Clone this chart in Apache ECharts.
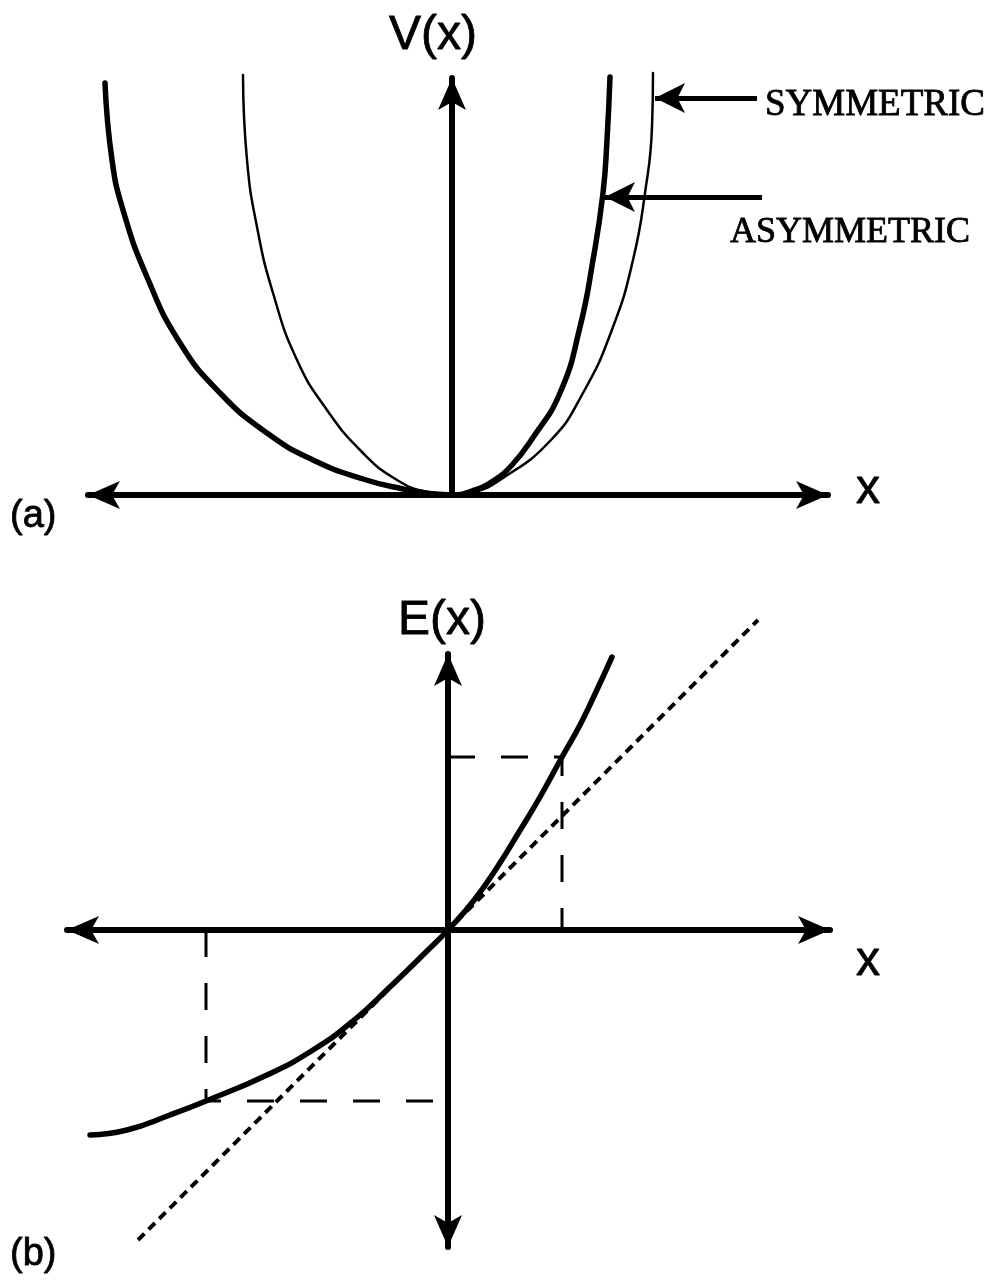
<!DOCTYPE html>
<html>
<head>
<meta charset="utf-8">
<script src="https://cdn.jsdelivr.net/npm/echarts@6/dist/echarts.min.js"></script>
<style>
  html, body { margin: 0; padding: 0; background: #fff; }
  #chart { width: 991px; height: 1283px; }
</style>
</head>
<body>
<div id="chart"></div>
<script>
// ---- (a) potential energy V(x): asymmetric (heavy) and symmetric (light) wells
const asymX = [-3.47, -3.40, -3.29, -3.05, -2.72, -2.32, -1.85, -1.39, -0.89, -0.49, -0.22, 0, 0.20, 0.41, 0.60, 0.80, 1.08, 1.28, 1.41, 1.51, 1.55, 1.58];
const asymV = [4.12, 3.35, 2.85, 2.18, 1.52, 1.02, 0.62, 0.35, 0.16, 0.06, 0.015, 0, 0.04, 0.14, 0.30, 0.56, 1.02, 1.68, 2.35, 3.02, 3.55, 4.18];
const symX = [-2.09, -2.05, -1.95, -1.79, -1.55, -1.25, -0.89, -0.55, -0.25, 0, 0.22, 0.48, 0.98, 1.31, 1.61, 1.81, 1.93, 2.00, 2.01];
const symV = [4.20, 3.35, 2.68, 2.02, 1.35, 0.85, 0.42, 0.15, 0.03, 0, 0.03, 0.15, 0.54, 1.02, 1.68, 2.35, 3.02, 3.68, 4.22];

// pointer arrows for the two wells: [tail, head]
const symPointer = [[3.05, 3.97], [2.03, 3.97]];
const asymPointer = [[3.10, 2.98], [1.53, 2.98]];
const pointerLabels = ['SYMMETRIC', 'ASYMMETRIC'];

// ---- (b) E(x), its tangent at the origin, and two read-off points
const eX = [-3.58, -3.21, -2.78, -2.42, -1.81, -1.35, -0.95, -0.55, -0.21, 0, 0.27, 0.50, 0.71, 0.92, 1.14, 1.32, 1.47, 1.64];
const eY = [-2.05, -2.00, -1.85, -1.71, -1.45, -1.20, -0.91, -0.54, -0.21, 0, 0.31, 0.64, 0.98, 1.33, 1.73, 2.05, 2.36, 2.73];
const tangentX = [-3.10, 3.10];
const tangentY = [-3.10, 3.10];
const readLow = [-2.42, -1.71];
const readHigh = [1.14, 1.73];

const axisTitles = ['V(x)', 'E(x)', 'x'];
const panelTags = ['(a)', '(b)'];

const zip = (xs, ys) => xs.map((x, i) => [x, ys[i]]);
const INK = '#000';
const ARROW = 'path://M14,0 L28,32 L14,24 L0,32 Z';
const SANS = '"Liberation Sans", Arial, sans-serif';
const SERIF = '"Liberation Serif", "Times New Roman", serif';

function axis(grid, min, max, arrows) {
  return {
    type: 'value', gridIndex: grid, min: min, max: max,
    axisLine: {
      show: true, onZero: true,
      symbol: arrows, symbolSize: [28, 32],
      symbolOffset: [arrows[0] === 'none' ? 0 : 16, arrows[1] === 'none' ? 0 : -16],
      lineStyle: { color: INK, width: 6 }
    },
    axisTick: { show: false }, axisLabel: { show: false }, splitLine: { show: false }
  };
}

function curve(data, width, grid, z, extra) {
  return Object.assign({
    type: 'line', xAxisIndex: grid, yAxisIndex: grid, data: data,
    symbol: 'none', smooth: 0.5, clip: false, z: z,
    lineStyle: { color: INK, width: width, cap: 'round', join: 'round' },
    emphasis: { disabled: true }, silent: true
  }, extra || {});
}

function text(str, x, y, font, align) {
  return {
    type: 'text', x: x, y: y, silent: true,
    style: { text: str, font: font, fill: INK, stroke: INK, lineWidth: 0.8,
             align: align, verticalAlign: 'middle',
             textAlign: align, textVerticalAlign: 'middle' }
  };
}

const chart = echarts.init(document.getElementById('chart'), null, { renderer: 'canvas' });
chart.setOption({
  backgroundColor: '#fff',
  animation: false,
  grid: [
    { left: 88, right: 163, top: 78, bottom: 788 },
    { left: 67, right: 161, top: 654, bottom: 36 }
  ],
  xAxis: [
    axis(0, -3.64, 3.76, [ARROW, ARROW]),
    axis(1, -3.81, 3.82, [ARROW, ARROW])
  ],
  yAxis: [
    axis(0, 0, 4.17, ['none', ARROW]),
    axis(1, -3.17, 2.76, [ARROW, ARROW])
  ],
  series: [
    curve(zip(symX, symV), 2.5, 0, 3),
    curve(zip(asymX, asymV), 5.5, 0, 4),
    {
      type: 'line', xAxisIndex: 0, yAxisIndex: 0, data: [], silent: true,
      markLine: {
        silent: true, animation: false,
        symbol: ['none', ARROW], symbolSize: 30,
        symbolOffset: [0, [0, 15]],
        label: { show: false },
        emphasis: { disabled: true },
        lineStyle: { color: INK, width: 5, type: 'solid' },
        data: [
          [{ coord: symPointer[0] }, { coord: symPointer[1] }],
          [{ coord: asymPointer[0] }, { coord: asymPointer[1] }]
        ]
      }
    },
    curve(zip(tangentX, tangentY), 4, 1, 2, { smooth: false,
      lineStyle: { color: INK, width: 4, type: [9, 6], cap: 'butt' } }),
    curve([[readLow[0], 0], readLow, [0, readLow[1]]], 3, 1, 2, { smooth: false,
      lineStyle: { color: INK, width: 3, type: [27, 26], cap: 'butt' } }),
    curve([[0, readHigh[1]], readHigh, [readHigh[0], 0]], 3, 1, 2, { smooth: false,
      lineStyle: { color: INK, width: 3, type: [27, 26], cap: 'butt' } }),
    curve(zip(eX, eY), 5.5, 1, 5)
  ],
  graphic: [
    text(axisTitles[0], 433, 36, '48px ' + SANS, 'center'),
    text(axisTitles[1], 442, 621, '48px ' + SANS, 'center'),
    text(axisTitles[2], 868, 490, '48px ' + SANS, 'center'),
    text(axisTitles[2], 868, 962, '48px ' + SANS, 'center'),
    text(panelTags[0], 10, 517, '38px ' + SANS, 'left'),
    text(panelTags[1], 10, 1255, '38px ' + SANS, 'left'),
    text(pointerLabels[0], 765, 105, '37px ' + SERIF, 'left'),
    text(pointerLabels[1], 730, 233, '36px ' + SERIF, 'left')
  ]
});
</script>
</body>
</html>
